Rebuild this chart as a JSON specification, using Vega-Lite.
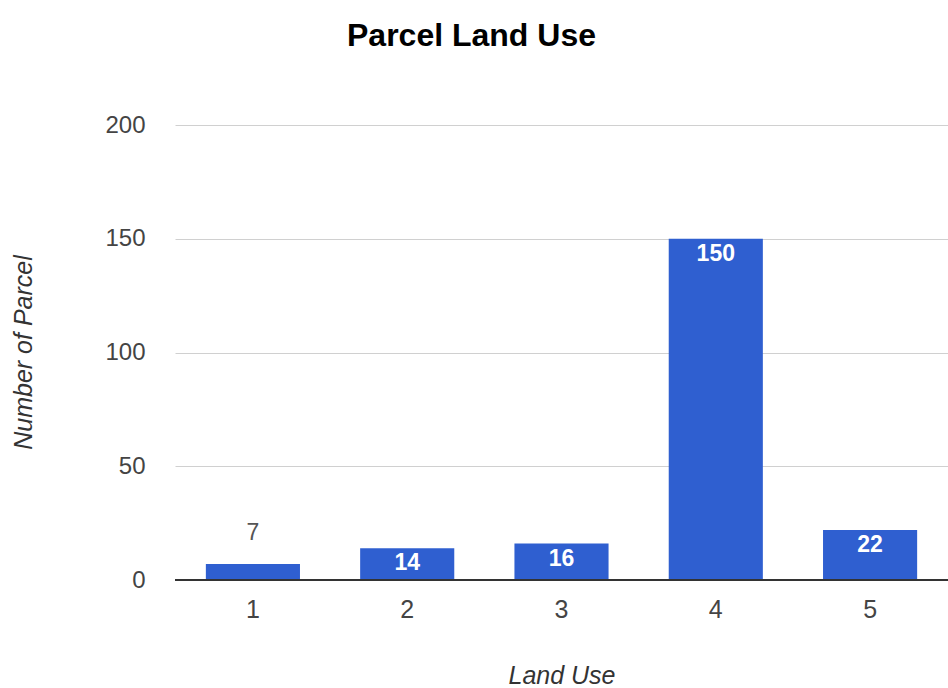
{
  "$schema": "https://vega.github.io/schema/vega-lite/v6.json",
  "width": 773,
  "height": 455,
  "autosize": {"type": "none"},
  "padding": {"left": 175, "top": 125, "right": 0, "bottom": 108},
  "background": "white",
  "title": {
    "text": "Parcel Land Use",
    "font": "Liberation Sans",
    "fontSize": 32,
    "fontWeight": "bold",
    "color": "#000000",
    "anchor": "middle",
    "frame": "group",
    "baseline": "alphabetic",
    "dx": -90,
    "offset": 35
  },
  "data": {
    "values": [
      {"landUse": "1", "count": 7},
      {"landUse": "2", "count": 14},
      {"landUse": "3", "count": 16},
      {"landUse": "4", "count": 150},
      {"landUse": "5", "count": 22}
    ]
  },
  "config": {
    "view": {"stroke": null},
    "font": "Liberation Sans"
  },
  "encoding": {
    "x": {
      "field": "landUse",
      "type": "nominal",
      "scale": {"paddingInner": 0.39, "paddingOuter": 0.2},
      "axis": {
        "title": "Land Use",
        "titleFont": "Liberation Sans",
        "titleFontSize": 25,
        "titleFontStyle": "italic",
        "titleFontWeight": "normal",
        "titleColor": "#333333",
        "titleBaseline": "alphabetic",
        "titleY": 103,
        "labelAngle": 0,
        "labelFont": "Liberation Sans",
        "labelFontSize": 25,
        "labelColor": "#444444",
        "labelPadding": 17,
        "ticks": false,
        "domain": false,
        "grid": false
      }
    },
    "y": {
      "field": "count",
      "type": "quantitative",
      "scale": {"domain": [0, 200], "nice": false},
      "axis": {
        "title": "Number of Parcel",
        "titleFont": "Liberation Sans",
        "titleFontSize": 25,
        "titleFontStyle": "italic",
        "titleFontWeight": "normal",
        "titleColor": "#333333",
        "titleBaseline": "alphabetic",
        "titleX": -144,
        "titleY": 227,
        "titleAngle": -90,
        "values": [0, 50, 100, 150, 200],
        "labelFont": "Liberation Sans",
        "labelFontSize": 24,
        "labelColor": "#444444",
        "labelPadding": 30,
        "ticks": false,
        "domain": false,
        "grid": true,
        "gridColor": "#d0d0d0",
        "gridWidth": 1
      }
    }
  },
  "layer": [
    {
      "mark": {"type": "bar", "color": "#2f5fd0"}
    },
    {
      "mark": {"type": "rule", "color": "#333333", "strokeWidth": 2},
      "encoding": {"x": {"value": 0}, "x2": {"value": 773}, "y": {"datum": 0}}
    },
    {
      "transform": [{"filter": "datum.count < 10"}],
      "mark": {"type": "text", "baseline": "alphabetic", "dy": -24, "fontSize": 23, "color": "#555555", "font": "Liberation Sans"},
      "encoding": {"text": {"field": "count", "type": "quantitative"}}
    },
    {
      "transform": [{"filter": "datum.count >= 10"}],
      "mark": {"type": "text", "baseline": "top", "dy": 4, "fontSize": 23, "fontWeight": "bold", "color": "#ffffff", "font": "Liberation Sans"},
      "encoding": {"text": {"field": "count", "type": "quantitative"}}
    }
  ]
}
